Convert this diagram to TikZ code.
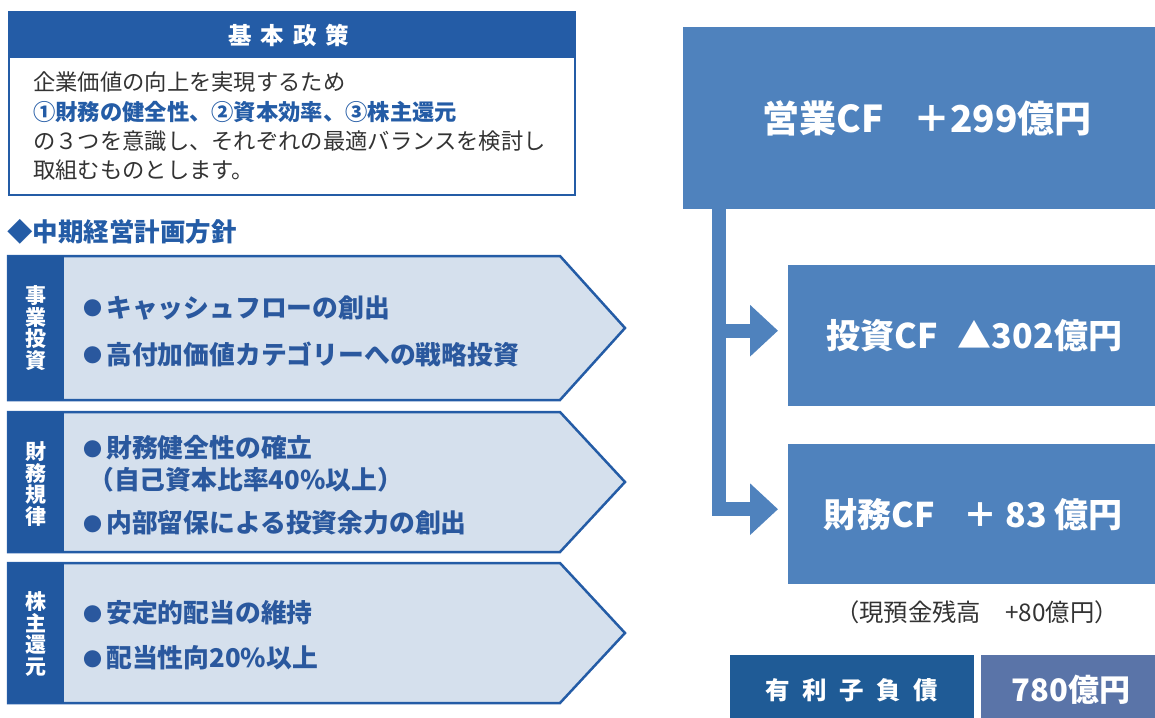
\documentclass[tikz,border=0pt]{standalone}
\usepackage{fontspec}
\setmainfont{Noto Sans CJK JP}
\usetikzlibrary{arrows.meta}
\usetikzlibrary{positioning}
\definecolor{hdblue}{RGB}{36,92,166}
\definecolor{tabblue}{RGB}{33,88,160}
\definecolor{lightbg}{RGB}{213,224,237}
\definecolor{itemblue}{RGB}{42,88,158}
\definecolor{cfblue}{RGB}{79,130,189}
\definecolor{debtbg}{RGB}{31,91,150}
\definecolor{valbg}{RGB}{90,116,168}
\definecolor{txtgray}{RGB}{51,51,51}
\newcommand{\fs}[1]{\fontsize{#1}{#1}\selectfont}
\newcommand{\dotmark}{\raisebox{1.5pt}{\fs{19}●}\hspace{4pt}}
\tikzset{
  pent/.style={fill=lightbg,draw=hdblue,line width=2.5pt,line join=miter},
  item/.style={anchor=west,inner sep=0pt,text=itemblue,font=\fs{25.8}\bfseries},
  tablabel/.style={text=white,align=center,inner sep=0pt,
    font=\fontsize{21}{21.5}\selectfont\bfseries},
  body/.style={anchor=base west,inner sep=0pt,text=txtgray,font=\fs{22.3}},
  cfbox/.style={fill=cfblue,inner sep=0pt,anchor=north west,text=white,
    font=\fs{34}\bfseries},
  flow/.style={draw=cfblue,line width=14pt,line join=miter,
    -{Triangle[width=50pt,length=28pt]},shorten >=10pt}
}

\begin{document}
\begin{tikzpicture}[x=1pt,y=-1pt]
  \useasboundingbox (0,0) rectangle (1155,717);
  \draw[hdblue,line width=2pt,fill=white] (9,12) rectangle (575,195);
  \fill[hdblue] (8,11) rectangle (576,58);
  \node[text=white,font=\fs{23.5}\bfseries] (policyhead) at (289,35)
    {基\hspace{9pt}本\hspace{9pt}政\hspace{9pt}策};
  \node[body] (policya) at (33,90) {企業価値の向上を実現するため};
  \node[body,text=hdblue,font=\fs{22.3}\bfseries] (policyb) at (33,120)
    {①財務の健全性、②資本効率、③株主還元};
  \node[body] (policyc) at (33,149) {の３つを意識し、それぞれの最適バランスを検討し};
  \node[body] (policyd) at (33,178) {取組むものとします。};
  \node[anchor=west,inner sep=0pt,text=hdblue,font=\fs{25.5}\bfseries] (plan)
    at (7,232) {◆中期経営計画方針};

  \draw[pent] (8,256) -- (560,256) -- (625,328) -- (560,400) -- (8,400) -- cycle;
  \fill[tabblue] (8,256) rectangle (64,400);
  \node[tablabel] (taba) at (36,328) {事\\業\\投\\資};
  \node[item] (itema) at (83,308) {\dotmark キャッシュフローの創出};
  \node[item] (itemb) at (83,354) {\dotmark 高付加価値カテゴリーへの戦略投資};

  \draw[pent] (8,412) -- (560,412) -- (625,482) -- (560,552) -- (8,552) -- cycle;
  \fill[tabblue] (8,412) rectangle (64,552);
  \node[tablabel] (tabb) at (36,484) {財\\務\\規\\律};
  \node[item] (itemc) at (83,448) {\dotmark 財務健全性の確立};
  \node[item] (itemd) at (88,480) {（自己資本比率40\%以上）};
  \node[item] (iteme) at (83,523) {\dotmark 内部留保による投資余力の創出};

  \draw[pent] (8,563) -- (560,563) -- (625,633) -- (560,703) -- (8,703) -- cycle;
  \fill[tabblue] (8,563) rectangle (64,703);
  \node[tablabel] (tabc) at (36,634) {株\\主\\還\\元};
  \node[item] (itemf) at (83,613) {\dotmark 安定的配当の維持};
  \node[item] (itemg) at (83,658) {\dotmark 配当性向20\%以上};

  \node[cfbox,font=\fs{37}\bfseries,minimum width=488,minimum height=182]
    (op) at (683,27) {営業CF\hspace{0.8em}＋299億円};
  \node[cfbox,minimum width=372,minimum height=141] (inv) at (788,265)
    {投資CF\hspace{0.6em}▲302億円};
  \node[cfbox,minimum width=370,minimum height=140] (fin) at (788,444)
    {財務CF\hspace{0.85em}＋ 83 億円};
  \draw[flow] ([xshift=36]op.south west) |- ([yshift=5]inv.west);
  \draw[flow] ([xshift=36]op.south west) |- ([yshift=5]fin.west);
  \node[text=txtgray,font=\fs{24.3}] (cash) at (977,612) {（現預金残高　+80億円）};

  \node[fill=debtbg,inner sep=0pt,anchor=north west,minimum width=244,
    minimum height=70,text=white,font=\fs{24.5}\bfseries] (debt) at (730,655)
    {有\hspace{12.5pt}利\hspace{12.5pt}子\hspace{12.5pt}負\hspace{12.5pt}債};
  \node[fill=valbg,inner sep=0pt,anchor=north west,minimum width=180,
    minimum height=70,text=white,font=\fs{31}\bfseries] (debtval) at (981,655)
    {780億円};
\end{tikzpicture}
\end{document}
